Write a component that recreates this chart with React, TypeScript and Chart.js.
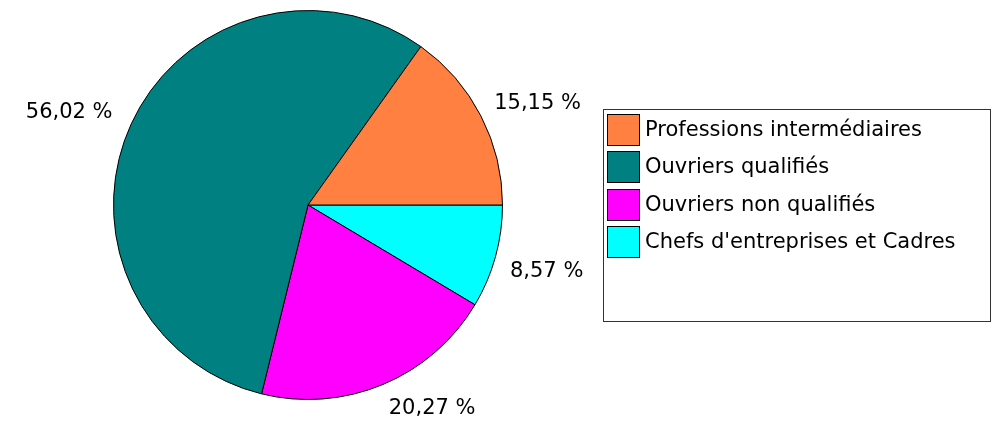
import { useEffect, useRef } from "react";
import { Chart, registerables } from "chart.js";

Chart.register(...registerables);

// Legend order (as in the reference)
const categories = [
  "Professions intermédiaires",
  "Ouvriers qualifiés",
  "Ouvriers non qualifiés",
  "Chefs d'entreprises et Cadres",
];
const shares = [15.15, 56.02, 20.27, 8.57];
const shareLabels = ["15,15 %", "56,02 %", "20,27 %", "8,57 %"];
const colors = ["#FF8040", "#008080", "#FF00FF", "#00FFFF"];

// Chart.js draws clockwise; the reference runs counter-clockwise from 3 o'clock,
// so the dataset is fed in reverse order starting at 3 o'clock.
const pieLabels = [...categories].reverse();
const pieValues = [...shares].reverse();
const pieColors = [...colors].reverse();
const pieTexts = [...shareLabels].reverse();

const FONT = '21px "DejaVu Sans", Verdana, sans-serif';

const outsideLabels = {
  id: "outsideLabels",
  afterDatasetsDraw(chart: any) {
    const meta = chart.getDatasetMeta(0);
    const ctx = chart.ctx;
    ctx.save();
    ctx.font = FONT;
    ctx.fillStyle = "#000";
    ctx.textBaseline = "alphabetic";
    meta.data.forEach((arc: any, i: number) => {
      const p = arc.getProps(["startAngle", "endAngle", "x", "y", "outerRadius"], true);
      const mid = (p.startAngle + p.endAngle) / 2;
      const r = p.outerRadius + 15;
      const c = Math.cos(mid);
      const s = Math.sin(mid);
      const ax = p.x + c * r + (c >= 0 ? 0 : -5);
      const ay = p.y + s * r;
      ctx.textAlign = c >= 0 ? "left" : "right";
      const by = s < 0 ? ay : ay + 16;
      ctx.fillText(pieTexts[i], ax, by);
    });
    ctx.restore();
  },
};

const boxLegend = {
  id: "boxLegend",
  afterDraw(chart: any) {
    const ctx = chart.ctx;
    ctx.save();
    ctx.lineWidth = 1;
    ctx.strokeStyle = "#333";
    ctx.strokeRect(603.5, 109.5, 387, 212);
    ctx.font = FONT;
    ctx.textAlign = "left";
    ctx.textBaseline = "alphabetic";
    categories.forEach((name, i) => {
      const top = Math.round(114 + i * 37.4);
      ctx.fillStyle = colors[i];
      ctx.fillRect(607, top, 33, 32);
      ctx.strokeStyle = "#000";
      ctx.strokeRect(607.5, top + 0.5, 32, 31);
      ctx.fillStyle = "#000";
      ctx.fillText(name, 645, top + 22);
    });
    ctx.restore();
  },
};

export default function App() {
  const ref = useRef<HTMLCanvasElement | null>(null);

  useEffect(() => {
    if (!ref.current) return;
    const chart = new Chart(ref.current, {
      type: "pie",
      data: {
        labels: pieLabels,
        datasets: [
          {
            data: pieValues,
            backgroundColor: pieColors,
            borderColor: "#000",
            borderWidth: 1,
            hoverOffset: 0,
            offset: 0,
          },
        ],
      },
      options: {
        responsive: false,
        animation: false,
        rotation: 90,
        layout: { padding: { left: 113, right: 491, top: 10, bottom: 30 } },
        plugins: {
          legend: { display: false },
          tooltip: { enabled: false },
        },
      },
      plugins: [outsideLabels, boxLegend],
    });
    return () => chart.destroy();
  }, []);

  return (
    <div style={{ position: "fixed", left: 0, top: 0, width: 994, height: 430, background: "#fff" }}>
      <canvas ref={ref} width={994} height={430} style={{ width: 994, height: 430, display: "block" }} />
    </div>
  );
}
